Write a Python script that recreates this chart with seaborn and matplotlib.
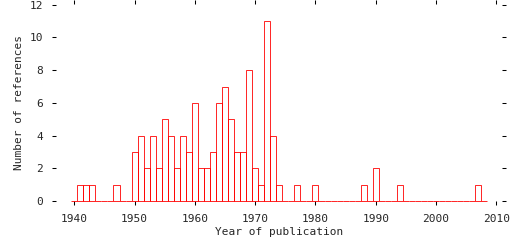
import matplotlib
matplotlib.use("Agg")
import matplotlib.pyplot as plt
import seaborn as sns
import pandas as pd

# Data (publications per year)
years = [1941, 1942, 1943, 1947, 1950, 1951, 1952, 1953, 1954, 1955, 1956,
         1957, 1958, 1959, 1960, 1961, 1962, 1963, 1964, 1965, 1966, 1967,
         1968, 1969, 1970, 1971, 1972, 1973, 1974, 1977, 1980, 1988, 1990,
         1994, 2007]
counts = [1, 1, 1, 1, 3, 4, 2, 4, 2, 5, 4,
          2, 4, 3, 6, 2, 2, 3, 6, 7, 5, 3,
          3, 8, 2, 1, 11, 4, 1, 1, 1, 1, 2,
          1, 1]
x_ticks = [1940, 1950, 1960, 1970, 1980, 1990, 2000, 2010]
y_ticks = [0, 2, 4, 6, 8, 10, 12]

df = pd.DataFrame({"year": years, "count": counts})

sns.set_style("white")
plt.rcParams["font.family"] = ["DejaVu Sans Mono"]

fig = plt.figure(figsize=(5.12, 2.40), dpi=100)
ax = fig.add_axes([52 / 512, 1 - 205 / 240, (506 - 52) / 512, 205 / 240])

sns.histplot(data=df, x="year", weights="count", binwidth=1,
             binrange=(1939.5, 2008.5), element="bars", fill=False,
             color="#ff0000", linewidth=0.6, ax=ax)

ax.set_xlim(1936.3, 2011.6)
ax.set_ylim(-0.245, 12.29)
ax.set_xticks(x_ticks)
ax.set_yticks(y_ticks)
for s in ax.spines.values():
    s.set_visible(False)
ax.tick_params(axis="both", which="both", direction="in", length=3,
               width=0.75, color="black", labelsize=8, pad=6.5,
               top=True, right=True, bottom=True, left=True,
               labeltop=False, labelright=False)
ax.set_xlabel("Year of publication", fontsize=8, labelpad=2)
ax.set_ylabel("Number of references", fontsize=8, labelpad=4)
ax.grid(False)

fig.savefig("out.png", dpi=100)
